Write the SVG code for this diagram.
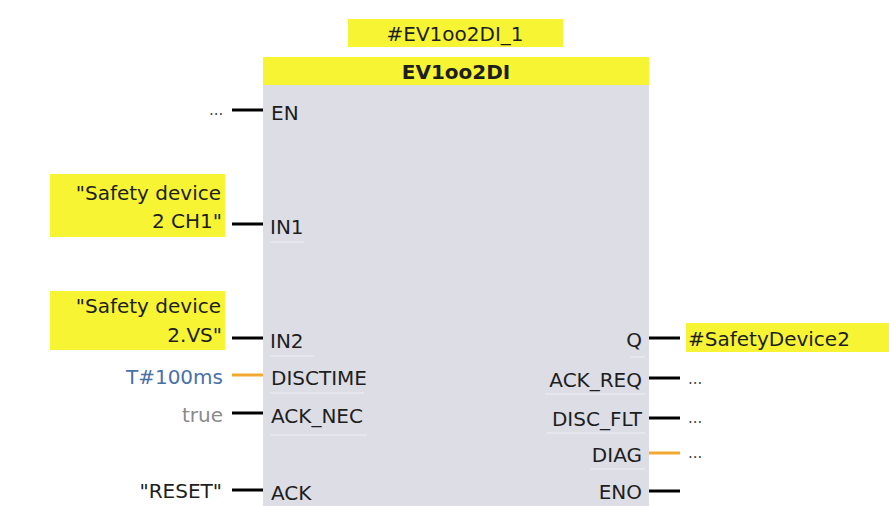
<svg xmlns="http://www.w3.org/2000/svg" width="889" height="506" viewBox="0 0 889 506">
<style>
.t{font-family:"DejaVu Sans",Verdana,sans-serif;font-size:20px;fill:#1e1e1e}
.r{text-anchor:end}
.y{fill:#f7f533}
.w{stroke:#000;stroke-width:3}
.o{stroke:#f0a830;stroke-width:3}
.sep{stroke:#e8eaf0;stroke-width:1.5}
.dots{font-family:"DejaVu Sans",sans-serif;font-size:15px;fill:#444}
</style>
<rect width="889" height="506" fill="#fff"/>
<g id="block">
<rect x="263" y="57" width="386" height="460" fill="#dcdde5"/>
<rect class="y" x="263" y="57" width="386" height="28"/>
<text class="t" x="456" y="79" text-anchor="middle" font-weight="bold">EV1oo2DI</text>
<rect class="y" x="348" y="19" width="215" height="28"/>
<text class="t" x="455" y="41" text-anchor="middle">#EV1oo2DI_1</text>
<text class="t" x="271" y="120">EN</text>
<text class="t" x="270" y="234">IN1</text>
<text class="t" x="270" y="348">IN2</text>
<text class="t" x="271" y="385">DISCTIME</text>
<text class="t" x="271" y="423">ACK_NEC</text>
<text class="t" x="271" y="500">ACK</text>
<text class="t r" x="642" y="347">Q</text>
<text class="t r" x="642" y="387">ACK_REQ</text>
<text class="t r" x="642" y="426">DISC_FLT</text>
<text class="t r" x="642" y="462">DIAG</text>
<text class="t r" x="642" y="499">ENO</text>
<g class="sep">
<line x1="270" y1="242" x2="304" y2="242"/>
<line x1="270" y1="356" x2="314" y2="356"/>
<line x1="270" y1="393" x2="364" y2="393"/>
<line x1="270" y1="435" x2="367" y2="435"/>
<line x1="630" y1="357" x2="645" y2="357"/>
<line x1="545" y1="394" x2="645" y2="394"/>
<line x1="547" y1="433" x2="645" y2="433"/>
<line x1="590" y1="469" x2="645" y2="469"/>
</g>
</g>
<g id="in-en"><text class="dots" x="209" y="115">...</text></g>
<g id="in-in1">
<rect class="y" x="50" y="174" width="175" height="63"/>
<text class="t r" x="221" y="200">"Safety device</text>
<text class="t r" x="222" y="228">2 CH1"</text>
</g>
<g id="in-in2">
<rect class="y" x="50" y="291" width="175" height="59"/>
<text class="t r" x="221" y="313">"Safety device</text>
<text class="t r" x="222" y="342">2.VS"</text>
</g>
<g id="in-disctime"><text class="t r" x="223" y="384" style="fill:#4a70a8">T#100ms</text></g>
<g id="in-acknec"><text class="t r" x="223" y="422" style="fill:#8a8a8a">true</text></g>
<g id="in-ack"><text class="t r" x="222" y="498">"RESET"</text></g>
<g id="out-q">
<rect class="y" x="686" y="323" width="203" height="29"/>
<text class="t" x="688" y="346">#SafetyDevice2</text>
</g>
<g id="out-ackreq"><text class="dots" x="688" y="384">...</text></g>
<g id="out-discflt"><text class="dots" x="688" y="423">...</text></g>
<g id="out-diag"><text class="dots" x="688" y="458">...</text></g>
<g id="connectors">
<line class="w" x1="232" y1="110" x2="263" y2="110"/>
<line class="w" x1="232" y1="224" x2="263" y2="224"/>
<line class="w" x1="232" y1="338" x2="263" y2="338"/>
<line class="o" x1="232" y1="375" x2="263" y2="375"/>
<line class="w" x1="232" y1="413" x2="263" y2="413"/>
<line class="w" x1="232" y1="490" x2="263" y2="490"/>
<line class="w" x1="649" y1="338" x2="680" y2="338"/>
<line class="w" x1="649" y1="378" x2="680" y2="378"/>
<line class="w" x1="649" y1="418" x2="680" y2="418"/>
<line class="o" x1="649" y1="453" x2="680" y2="453"/>
<line class="w" x1="649" y1="491" x2="680" y2="491"/>
</g>
</svg>
